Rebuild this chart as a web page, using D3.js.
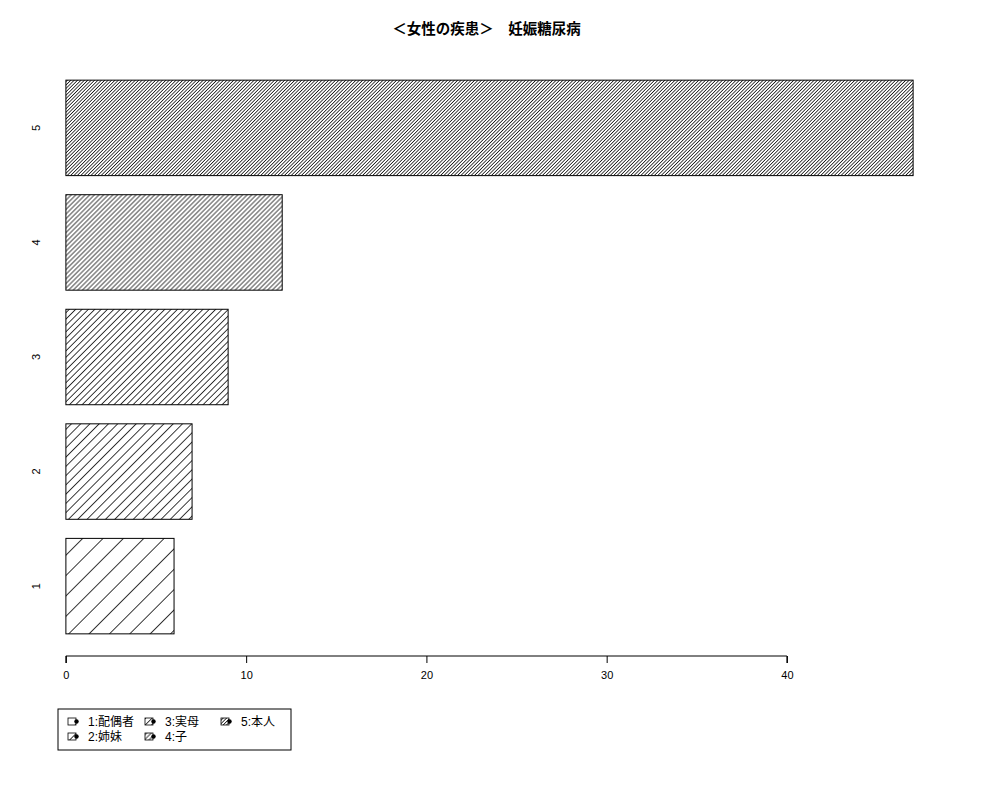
<!DOCTYPE html>
<html>
<head>
<meta charset="utf-8">
<script src="https://cdn.jsdelivr.net/npm/d3@7"></script>
<style>
  body { margin: 0; background: #fff; }
  text { font-family: "Liberation Sans", "Noto Sans CJK JP", sans-serif; }
</style>
</head>
<body>
<script>
// données
const categories = ["1", "2", "3", "4", "5"];
const values = [6, 7, 9, 12, 47];
const density = [5, 11, 16, 22, 30]; // lignes par pouce (hachures)
const legendLabels = ["1:配偶者", "2:姉妹", "3:実母", "4:子", "5:本人"];
const xTicks = [0, 10, 20, 30, 40];
const title = "＜女性の疾患＞　妊娠糖尿病";

const width = 1000;
const height = 800;

const svg = d3
  .select("body")
  .append("svg")
  .attr("width", width)
  .attr("height", height);

// zone de tracé
const plot = { left: 32, right: 947, top: 58, bottom: 656 };

const xmax = d3.max(values);
const xScale = d3
  .scaleLinear()
  .domain([-0.04 * xmax, xmax * 1.04])
  .range([plot.left, plot.right]);

const nb = values.length;
const yScale = d3
  .scaleLinear()
  .domain([0.2 - 0.04 * (nb * 1.2 - 0.2), nb * 1.2 + 0.04 * (nb * 1.2 - 0.2)])
  .range([plot.bottom, plot.top]);

// motifs de hachures
const defs = svg.append("defs");
density.forEach((d, i) => {
  const s = 72 / d;
  const p = defs
    .append("pattern")
    .attr("id", "hatch" + i)
    .attr("patternUnits", "userSpaceOnUse")
    .attr("width", s)
    .attr("height", 10)
    .attr("patternTransform", "rotate(45)");
  p.append("line")
    .attr("x1", s / 2)
    .attr("x2", s / 2)
    .attr("y1", 0)
    .attr("y2", 10)
    .attr("stroke", "#000")
    .attr("stroke-width", 0.8);
});

// barres
svg
  .append("g")
  .selectAll("rect")
  .data(values)
  .join("rect")
  .attr("x", xScale(0))
  .attr("y", (d, i) => yScale(i * 1.2 + 1.2))
  .attr("width", (d) => xScale(d) - xScale(0))
  .attr("height", (d, i) => yScale(i * 1.2 + 0.2) - yScale(i * 1.2 + 1.2))
  .attr("fill", (d, i) => `url(#hatch${i})`)
  .attr("stroke", "#000")
  .attr("stroke-width", 1);

// axe x
const xAxis = svg
  .append("g")
  .attr("transform", `translate(0,${plot.bottom})`)
  .call(d3.axisBottom(xScale).tickValues(xTicks).tickSize(7).tickPadding(8).tickSizeOuter(0));
xAxis.select(".domain")
  .attr("d", `M${xScale(xTicks[0])},7V0H${xScale(xTicks[xTicks.length - 1])}V7`);
xAxis.selectAll("text").attr("font-size", 11).attr("font-family", "Liberation Sans");

// noms des barres (verticaux)
svg
  .append("g")
  .selectAll("text")
  .data(categories)
  .join("text")
  .attr("transform", (d, i) => `translate(40,${yScale(i * 1.2 + 0.7)}) rotate(-90)`)
  .attr("text-anchor", "middle")
  .attr("font-size", 11)
  .text((d) => d);

// titre
svg
  .append("text")
  .attr("x", (plot.left + plot.right) / 2 - 3)
  .attr("y", 34)
  .attr("text-anchor", "middle")
  .attr("font-size", 14.5)
  .attr("font-weight", "bold")
  .text(title);

// légende
const legend = svg.append("g");
legend
  .append("rect")
  .attr("x", 58)
  .attr("y", 709)
  .attr("width", 233)
  .attr("height", 41)
  .attr("fill", "none")
  .attr("stroke", "#000");

const colX = [68, 145, 221];
const rowY = [722, 737];
const items = legend
  .selectAll("g")
  .data(legendLabels)
  .join("g")
  .attr("transform", (d, i) => `translate(${colX[Math.floor(i / 2)]},${rowY[i % 2]})`);

items
  .append("rect")
  .attr("x", 0)
  .attr("y", -4)
  .attr("width", 8)
  .attr("height", 7)
  .attr("fill", (d, i) => `url(#hatch${i})`)
  .attr("stroke", "#000")
  .attr("stroke-width", 0.8);
items
  .append("circle")
  .attr("cx", 8.5)
  .attr("cy", -0.5)
  .attr("r", 2.2)
  .attr("fill", "#000");
items
  .append("text")
  .attr("x", 20)
  .attr("y", 4)
  .attr("font-size", 12)
  .text((d) => d);
</script>
</body>
</html>
